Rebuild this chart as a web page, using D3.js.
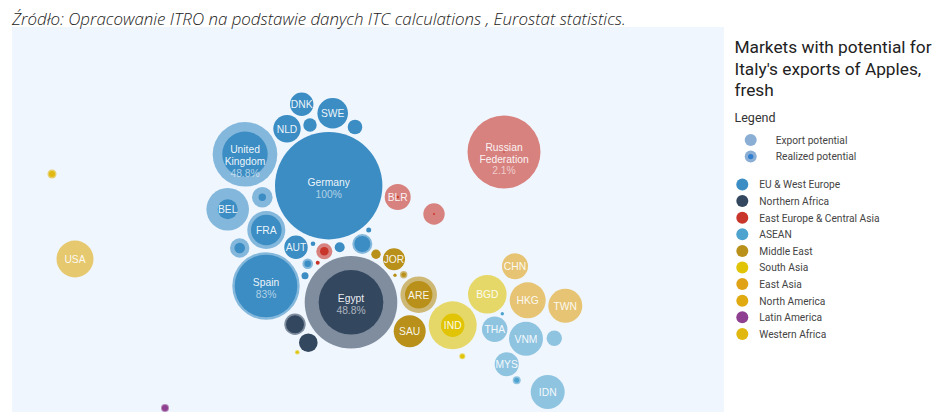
<!DOCTYPE html>
<html><head><meta charset="utf-8">
<script src="https://cdn.jsdelivr.net/npm/d3@7/dist/d3.min.js"></script>
<style>html,body{margin:0;padding:0;background:#fff;overflow:hidden}svg{display:block}</style>
</head><body><svg id="c" width="950" height="417"></svg>
<script>
const sourceNote = "Źródło: Opracowanie ITRO na podstawie danych ITC calculations , Eurostat statistics.";
const titleLines = ["Markets with potential for", "Italy's exports of Apples,", "fresh"];
const regions = ["EU & West Europe","Northern Africa","East Europe & Central Asia","ASEAN","Middle East","South Asia","East Asia","North America","Latin America","Western Africa"];
const regionColors = ["#3b8dc4","#33475f","#c8352b","#4fa3cf","#b8901a","#e0c405","#e0a318","#e0aa10","#8f3f8f","#e0b80f"];
const marketLabels = ["DNK","SWE","NLD","","","United Kingdom","Germany","BLR","","BEL","","FRA","","AUT","","","","","","","JOR","Spain","","","","Egypt","","","","","","ARE","SAU","CHN","BGD","HKG","TWN","IND","THA","VNM","","","","MYS","","IDN","Russian Federation","USA","",""];
const marketShare = {"United Kingdom":"48.8%","Germany":"100%","Spain":"83%","Egypt":"48.8%","Russian Federation":"2.1%"};
const marketX = [289.7,320.7,275,298,343,233,316.7,385.7,422,215.7,250.3,254.3,227.7,284,301,312.3,327.7,350.3,356.7,364,382,254,295.7,305.7,293,339,283,296.3,285.3,383,391.7,406.7,397.7,503,475.3,515.7,553.3,440.7,482.7,514,542.3,490.3,450.3,494.7,504.7,535.7,492,63,40,153];
const marketY = [307.7,298.7,283.3,287,285,257.7,226.3,215,198,202.7,214.7,182,164,164.7,168.3,160.7,164.7,168,182,157.7,152.7,126,148.3,149.3,136.3,109.7,87.7,69.3,59.7,136.7,137.3,117.3,80.7,145.7,117.7,111.7,106.3,86.7,82.7,73.3,73.7,98.3,55.7,47.7,31.7,20,260,153,238,4];
const exportPotential = [23.4,30.6,27.4,13.4,14.6,64.6,107.4,26,21.4,42.6,20.6,38,19.4,23.4,4.6,16,10,20,5,9.4,22,67.4,10.6,4,7,92.6,21.4,18.6,4.6,3.4,7.4,36.6,32,26,38.6,36,34,48,25.4,34,15.4,3.4,6,24,8,34,73,37,9,8];
const realizedPotential = [23.4,30.6,27.4,13.4,14.6,45.4,107.4,2.5,2,20,7.4,30.6,10.6,23.4,4.6,8.6,10,16,5,9.4,22,62.6,6.6,4,7,64.6,18,18.6,2.6,3.4,4.6,27.4,32,0,0,0,0,23.4,0,0,0,3.4,4,0,5,0,1.5,0,6,6];
const marketRegion = [0,0,0,0,0,0,0,2,2,0,0,0,0,0,0,2,0,0,0,4,4,0,0,2,0,1,1,1,5,4,4,4,4,6,5,6,6,5,3,3,3,3,5,3,3,3,2,7,9,8];
const legendSizes = ["Export potential","Realized potential"];

const svg = d3.select("#c");
const x = d3.scaleLinear().domain([0,712]).range([12,724]);
const y = d3.scaleLinear().domain([0,385]).range([412,27]);
const size = d3.scaleLinear().domain([0,100]).range([0,50]);
const color = d3.scaleOrdinal().domain(regions).range(regionColors);

svg.append("rect").attr("x",x(0)).attr("y",y(385)).attr("width",x(712)-x(0)).attr("height",y(0)-y(385)).attr("fill","#f0f6fd");
svg.append("text").attr("x",12).attr("y",25).attr("font-family","'Open Sans'").attr("font-style","italic").attr("font-weight",300).attr("font-size",16.9).attr("fill","#222").text(sourceNote);

const markets = marketX.map((v,i)=>({label:marketLabels[i],x:v,y:marketY[i],p:exportPotential[i],r:realizedPotential[i],region:regions[marketRegion[i]]}));
const g = svg.append("g").selectAll("g").data(markets).join("g").attr("transform",d=>`translate(${x(d.x)},${y(d.y)})`);
g.append("circle").attr("r",d=>size(d.p)).attr("fill",d=>color(d.region)).attr("fill-opacity",d=>d.r>=d.p?1:0.6);
g.filter(d=>d.r>0&&d.r<d.p).append("circle").attr("r",d=>size(d.r)).attr("fill",d=>color(d.region));

const labelled = g.filter(d=>d.label);
labelled.each(function(d){
  const words = (d.label==="United Kingdom"||d.label==="Russian Federation")?d.label.split(" "):[d.label];
  const share = marketShare[d.label];
  const lines = words.map(t=>({t,o:0.92})).concat(share?[{t:share,o:0.6}]:[]);
  const lh = 11.8, shift = lines.length===3?10.5:(lines.length===2?6:3.8);
  d3.select(this).selectAll("text").data(lines).join("text")
    .attr("text-anchor","middle").attr("font-family","'Liberation Sans'").attr("font-size",10.3)
    .attr("y",(_,i)=>(i-(lines.length-1)/2)*lh+shift).attr("fill","#fff").attr("fill-opacity",l=>l.o).text(l=>l.t);
});

const side = svg.append("g").attr("font-family","Roboto");
side.selectAll("text.t").data(titleLines).join("text").attr("class","t").attr("x",734.5).attr("y",(_,i)=>53+i*21.7).attr("font-size",17.3).attr("fill","#222").text(d=>d);
side.append("text").attr("x",734.5).attr("y",122).attr("font-size",12.5).attr("fill","#333").text("Legend");
const sizeRows = side.selectAll("g.s").data(legendSizes).join("g").attr("class","s").attr("transform",(_,i)=>`translate(750.7,${140+i*16.6})`);
sizeRows.append("circle").attr("r",6).attr("fill","#8aaed4");
sizeRows.filter((_,i)=>i===1).append("circle").attr("r",2.7).attr("fill","#2f7fd0");
sizeRows.append("text").attr("x",25).attr("y",3.8).attr("font-size",10.2).attr("fill","#444").text(d=>d);
const regRows = side.selectAll("g.r").data(regions).join("g").attr("class","r").attr("transform",(_,i)=>`translate(742.3,${184.5+i*16.6})`);
regRows.append("circle").attr("r",6).attr("fill",d=>color(d));
regRows.append("text").attr("x",17).attr("y",3.8).attr("font-size",10.2).attr("fill","#444").text(d=>d);
</script></body></html>
